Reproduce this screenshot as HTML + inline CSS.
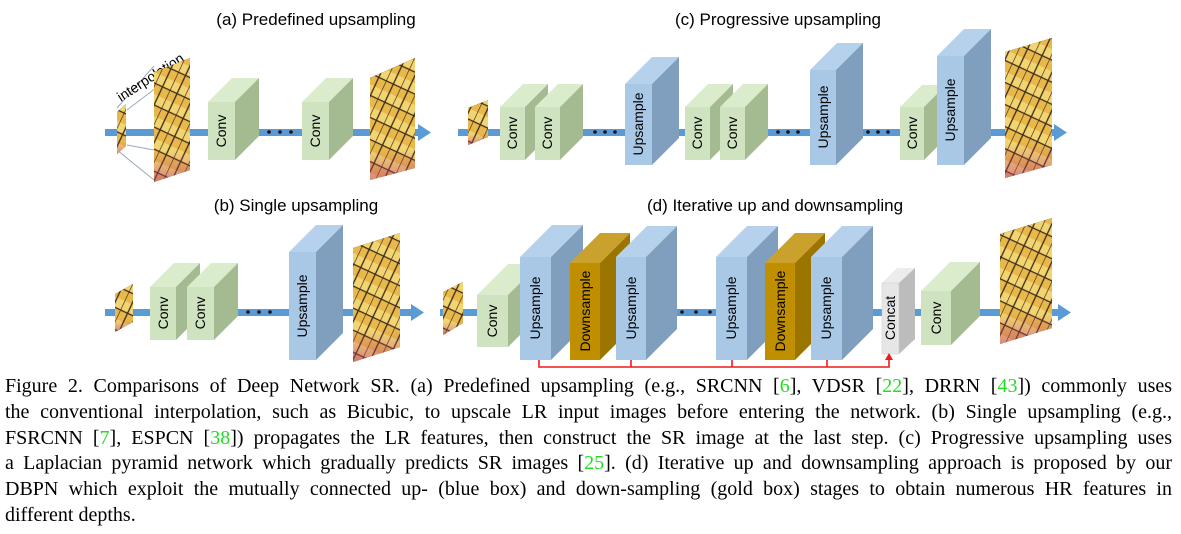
<!DOCTYPE html>
<html><head><meta charset="utf-8"><style>
body{margin:0;width:1181px;height:534px;background:#fff;position:relative;overflow:hidden}
svg{position:absolute;left:0;top:0}
.cap{position:absolute;left:5px;width:1167px;top:374px;font-family:"Liberation Serif",serif;font-size:20px;line-height:25.8px;color:#000}
.cap div{text-align:justify;text-align-last:justify;white-space:nowrap;overflow:visible}
.cap div.l{text-align-last:left}
.g{color:#22dd22}
</style></head><body>
<svg width="1181" height="534" viewBox="0 0 1181 534" font-family="Liberation Sans, sans-serif">
<defs>
<pattern id="bf" width="16" height="20" patternUnits="userSpaceOnUse" patternTransform="rotate(25)">
<rect width="16" height="20" fill="#e8b84a"/>
<rect x="0" y="0" width="16" height="10" fill="#f2d470"/>
<path d="M0 0V20M8 0V20M0 10H16" stroke="#3a2a1a" stroke-width="1.3"/>
</pattern>
<linearGradient id="pk" x1="0" y1="0" x2="0" y2="1">
<stop offset="0.75" stop-color="#c04080" stop-opacity="0"/><stop offset="1" stop-color="#c04080" stop-opacity="0.5"/>
</linearGradient>
</defs>
<g font-size="17" fill="#000" text-anchor="middle">
<text x="316" y="25">(a) Predefined upsampling</text>
<text x="778" y="25">(c) Progressive upsampling</text>
<text x="296" y="211">(b) Single upsampling</text>
<text x="775" y="211">(d) Iterative up and downsampling</text>
</g>
<g fill="#5b9bd5">
<rect x="105" y="129" width="315" height="7"/><polygon points="418,124 431,132.5 418,141"/>
<rect x="458" y="129" width="598" height="7"/><polygon points="1054,124 1067,132.5 1054,141"/>
<rect x="105" y="309" width="308" height="7"/><polygon points="411,304 424,312.5 411,321"/>
<rect x="440" y="309" width="620" height="7"/><polygon points="1058,304 1071,312.5 1058,321"/>
</g>
<g stroke="#9ab" stroke-width="1" fill="none">
<line x1="117" y1="108" x2="154" y2="66"/><line x1="127" y1="110" x2="190" y2="62"/>
<line x1="117" y1="150" x2="154" y2="180"/><line x1="127" y1="145" x2="154" y2="150"/>
</g>
<text x="0" y="0" font-size="14" transform="translate(121,102) rotate(-33)">interpolation</text>
<g id="imgs">
<polygon points="117,112 126,104 126,146 117,154"/>
<polygon points="154,72 190,58 190,170 154,182"/>
<polygon points="370,78 415,58 415,168 370,180"/>
<polygon points="468,108 488,100 488,137 468,145"/>
<polygon points="1005,52 1052,38 1052,165 1005,178"/>
<polygon points="115,294 133,284 133,322 115,332"/>
<polygon points="353,248 400,233 400,347 353,362"/>
<polygon points="443,292 463,282 463,323 443,335"/>
<polygon points="1000,234 1052,218 1052,328 1000,344"/>
</g>
<use href="#imgs" fill="url(#bf)"/>
<use href="#imgs" fill="url(#pk)"/>
<g fill="#111">
<circle cx="269" cy="132" r="1.8"/><circle cx="280" cy="132" r="1.8"/><circle cx="291" cy="132" r="1.8"/>
<circle cx="595" cy="132" r="1.8"/><circle cx="605" cy="132" r="1.8"/><circle cx="615" cy="132" r="1.8"/>
<circle cx="778" cy="132" r="1.8"/><circle cx="788" cy="132" r="1.8"/><circle cx="798" cy="132" r="1.8"/>
<circle cx="868" cy="132" r="1.8"/><circle cx="878" cy="132" r="1.8"/><circle cx="888" cy="132" r="1.8"/>
<circle cx="248" cy="312" r="1.8"/><circle cx="259" cy="312" r="1.8"/><circle cx="270" cy="312" r="1.8"/>
<circle cx="682" cy="312" r="1.8"/><circle cx="696" cy="312" r="1.8"/><circle cx="710" cy="312" r="1.8"/>
</g>
<g font-size="14" text-anchor="middle">
<polygon points="208,102 232,78 259,78 235,102" fill="#dbeccd"/><polygon points="235,102 259,78 259,136 235,160" fill="#a4bb91"/><rect x="208" y="102" width="27" height="58" fill="#cfe3c0"/>
<text transform="translate(226,131) rotate(-90)">Conv</text>
<polygon points="302,102 326,78 353,78 329,102" fill="#dbeccd"/><polygon points="329,102 353,78 353,136 329,160" fill="#a4bb91"/><rect x="302" y="102" width="27" height="58" fill="#cfe3c0"/>
<text transform="translate(320,131) rotate(-90)">Conv</text>
<polygon points="500,107 523,84 548,84 525,107" fill="#dbeccd"/><polygon points="525,107 548,84 548,137 525,160" fill="#a4bb91"/><rect x="500" y="107" width="25" height="53" fill="#cfe3c0"/>
<text transform="translate(517,133) rotate(-90)">Conv</text>
<polygon points="535,107 558,84 583,84 560,107" fill="#dbeccd"/><polygon points="560,107 583,84 583,137 560,160" fill="#a4bb91"/><rect x="535" y="107" width="25" height="53" fill="#cfe3c0"/>
<text transform="translate(552,133) rotate(-90)">Conv</text>
<polygon points="625,84 652,57 679,57 652,84" fill="#b5d1ec"/><polygon points="652,84 679,57 679,138 652,165" fill="#809fbf"/><rect x="625" y="84" width="27" height="81" fill="#a9c8e6"/>
<text transform="translate(643,124) rotate(-90)">Upsample</text>
<polygon points="685,107 708,84 733,84 710,107" fill="#dbeccd"/><polygon points="710,107 733,84 733,137 710,160" fill="#a4bb91"/><rect x="685" y="107" width="25" height="53" fill="#cfe3c0"/>
<text transform="translate(702,133) rotate(-90)">Conv</text>
<polygon points="720,107 743,84 768,84 745,107" fill="#dbeccd"/><polygon points="745,107 768,84 768,137 745,160" fill="#a4bb91"/><rect x="720" y="107" width="25" height="53" fill="#cfe3c0"/>
<text transform="translate(737,133) rotate(-90)">Conv</text>
<polygon points="810,70 837,43 863,43 836,70" fill="#b5d1ec"/><polygon points="836,70 863,43 863,138 836,165" fill="#809fbf"/><rect x="810" y="70" width="26" height="95" fill="#a9c8e6"/>
<text transform="translate(828,117) rotate(-90)">Upsample</text>
<polygon points="900,107 922,85 946,85 924,107" fill="#dbeccd"/><polygon points="924,107 946,85 946,138 924,160" fill="#a4bb91"/><rect x="900" y="107" width="24" height="53" fill="#cfe3c0"/>
<text transform="translate(917,133) rotate(-90)">Conv</text>
<polygon points="937,56 964,29 991,29 964,56" fill="#b5d1ec"/><polygon points="964,56 991,29 991,138 964,165" fill="#809fbf"/><rect x="937" y="56" width="27" height="109" fill="#a9c8e6"/>
<text transform="translate(955,110) rotate(-90)">Upsample</text>
<polygon points="150,287 174,263 200,263 176,287" fill="#dbeccd"/><polygon points="176,287 200,263 200,316 176,340" fill="#a4bb91"/><rect x="150" y="287" width="26" height="53" fill="#cfe3c0"/>
<text transform="translate(168,313) rotate(-90)">Conv</text>
<polygon points="187,287 211,263 238,263 214,287" fill="#dbeccd"/><polygon points="214,287 238,263 238,316 214,340" fill="#a4bb91"/><rect x="187" y="287" width="27" height="53" fill="#cfe3c0"/>
<text transform="translate(205,313) rotate(-90)">Conv</text>
<polygon points="289,252 316,225 343,225 316,252" fill="#b5d1ec"/><polygon points="316,252 343,225 343,333 316,360" fill="#809fbf"/><rect x="289" y="252" width="27" height="108" fill="#a9c8e6"/>
<text transform="translate(307,306) rotate(-90)">Upsample</text>
<polygon points="477,295 508,264 539,264 508,295" fill="#dbeccd"/><polygon points="508,295 539,264 539,316 508,347" fill="#a4bb91"/><rect x="477" y="295" width="31" height="52" fill="#cfe3c0"/>
<text transform="translate(497,321) rotate(-90)">Conv</text>
<polygon points="520,257 552,225 583,225 551,257" fill="#b5d1ec"/><polygon points="551,257 583,225 583,328 551,360" fill="#809fbf"/><rect x="520" y="257" width="31" height="103" fill="#a9c8e6"/>
<text transform="translate(540,308) rotate(-90)">Upsample</text>
<polygon points="570,263 600,233 630,233 600,263" fill="#c9a12c"/><polygon points="600,263 630,233 630,330 600,360" fill="#9c7400"/><rect x="570" y="263" width="30" height="97" fill="#bf8f00"/>
<text transform="translate(590,311) rotate(-90)">Downsample</text>
<polygon points="616,257 647,226 677,226 646,257" fill="#b5d1ec"/><polygon points="646,257 677,226 677,329 646,360" fill="#809fbf"/><rect x="616" y="257" width="30" height="103" fill="#a9c8e6"/>
<text transform="translate(636,308) rotate(-90)">Upsample</text>
<polygon points="716,257 747,226 778,226 747,257" fill="#b5d1ec"/><polygon points="747,257 778,226 778,329 747,360" fill="#809fbf"/><rect x="716" y="257" width="31" height="103" fill="#a9c8e6"/>
<text transform="translate(736,308) rotate(-90)">Upsample</text>
<polygon points="765,263 795,233 825,233 795,263" fill="#c9a12c"/><polygon points="795,263 825,233 825,330 795,360" fill="#9c7400"/><rect x="765" y="263" width="30" height="97" fill="#bf8f00"/>
<text transform="translate(785,311) rotate(-90)">Downsample</text>
<polygon points="811,257 842,226 873,226 842,257" fill="#b5d1ec"/><polygon points="842,257 873,226 873,329 842,360" fill="#809fbf"/><rect x="811" y="257" width="31" height="103" fill="#a9c8e6"/>
<text transform="translate(831,308) rotate(-90)">Upsample</text>
<polygon points="882,283 897,268 915,268 899,283" fill="#ececec"/><polygon points="899,283 915,268 915,339 899,354" fill="#bcbcbc"/><rect x="882" y="283" width="17" height="71" fill="#e6e6e6" stroke="#ccc" stroke-width="0.5"/>
<text transform="translate(895,318) rotate(-90)">Concat</text>
<polygon points="921,291 950,262 980,262 951,291" fill="#dbeccd"/><polygon points="951,291 980,262 980,316 951,345" fill="#a4bb91"/><rect x="921" y="291" width="30" height="54" fill="#cfe3c0"/>
<text transform="translate(941,318) rotate(-90)">Conv</text>
</g>
<g stroke="#ee1c1c" stroke-width="1.6" fill="none">
<polyline points="539,360 539,367 889,367 889,358"/>
<line x1="631" y1="360" x2="631" y2="367"/><line x1="732" y1="360" x2="732" y2="367"/><line x1="827" y1="360" x2="827" y2="367"/>
</g>
<polygon points="885,360 889,353 893,360" fill="#ee1c1c"/>
</svg>
<div class="cap">
<div>Figure 2. Comparisons of Deep Network SR. (a) Predefined upsampling (e.g., SRCNN [<span class="g">6</span>], VDSR [<span class="g">22</span>], DRRN [<span class="g">43</span>]) commonly uses</div>
<div>the conventional interpolation, such as Bicubic, to upscale LR input images before entering the network. (b) Single upsampling (e.g.,</div>
<div>FSRCNN [<span class="g">7</span>], ESPCN [<span class="g">38</span>]) propagates the LR features, then construct the SR image at the last step. (c) Progressive upsampling uses</div>
<div>a Laplacian pyramid network which gradually predicts SR images [<span class="g">25</span>]. (d) Iterative up and downsampling approach is proposed by our</div>
<div>DBPN which exploit the mutually connected up- (blue box) and down-sampling (gold box) stages to obtain numerous HR features in</div>
<div class="l">different depths.</div>
</div>
</body></html>
